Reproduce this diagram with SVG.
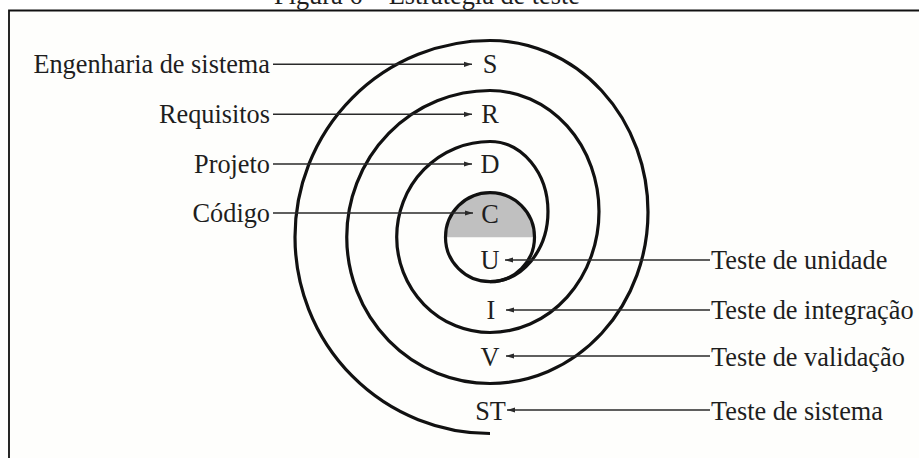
<svg xmlns="http://www.w3.org/2000/svg" width="919" height="458" viewBox="0 0 919 458">
  <style>
    .t { font-family: "Liberation Serif", "Times New Roman", serif; font-size: 26.3px; fill: #1e1e1e; }
    .l { text-anchor: end; }
    .m { text-anchor: middle; }
    .conn line { stroke: #2a2a2a; stroke-width: 1.4; marker-end: url(#ah); }
    .spiral { fill: none; stroke: #111; stroke-width: 3.2; }
  </style>
  <defs>
    <marker id="ah" markerUnits="userSpaceOnUse" markerWidth="9" markerHeight="6" refX="8" refY="3" orient="auto">
      <path d="M0,0.4 L8,3 L0,5.6 Z" fill="#2a2a2a"/>
    </marker>
  </defs>

  <rect x="0" y="0" width="919" height="458" fill="#ffffff"/>
  <rect x="9" y="10.5" width="920" height="460" fill="#fefefc"/>
  <path d="M9,470 V10.5 H925" fill="none" stroke="#111" stroke-width="1.8"/>
  <text id="caption" class="t m" x="427" y="3.5">Figura 6 – Estratégia de teste</text>

  <g id="spiral">
    <path d="M445.5,237.2 A44.5,44.5 0 0 1 534.5,237.2 Z" fill="#c0c0c0"/>
    <circle class="spiral" cx="490" cy="237.2" r="44.5"/>
    <path class="spiral" d="M490,281.7 A58,70.1 0 0 0 490,141.5 A93.3,95.5 0 0 0 490,332.5 A109,121 0 0 0 490,90.5 A143.3,146.5 0 0 0 490,383.5 A158,171.5 0 0 0 490,40.5 A195,196.5 0 0 0 490,433.5"/>
  </g>

  <g id="connectors" class="conn">
    <line x1="273" y1="64.3" x2="472" y2="64.3"/>
    <line x1="273" y1="114.3" x2="472" y2="114.3"/>
    <line x1="273" y1="164" x2="472" y2="164"/>
    <line x1="273" y1="213" x2="473" y2="213"/>
    <line x1="710" y1="260" x2="505" y2="260"/>
    <line x1="710" y1="310" x2="506" y2="310"/>
    <line x1="710" y1="356" x2="506" y2="356"/>
    <line x1="710" y1="410" x2="507" y2="410"/>
  </g>

  <g id="node-engenharia"><text class="t l" x="270" y="72.5">Engenharia de sistema</text></g>
  <g id="node-requisitos"><text class="t l" x="270" y="122.5">Requisitos</text></g>
  <g id="node-projeto"><text class="t l" x="270" y="172.5">Projeto</text></g>
  <g id="node-codigo"><text class="t l" x="270" y="221.5">Código</text></g>

  <g id="node-S"><text class="t m" x="490" y="73">S</text></g>
  <g id="node-R"><text class="t m" x="490" y="123">R</text></g>
  <g id="node-D"><text class="t m" x="490" y="173">D</text></g>
  <g id="node-C"><text class="t m" x="490" y="222.5">C</text></g>
  <g id="node-U"><text class="t m" x="490" y="269">U</text></g>
  <g id="node-I"><text class="t m" x="491" y="319">I</text></g>
  <g id="node-V"><text class="t m" x="490" y="365.5">V</text></g>
  <g id="node-ST"><text class="t m" x="490.5" y="419.5">ST</text></g>

  <g id="node-unidade"><text class="t" x="711" y="269">Teste de unidade</text></g>
  <g id="node-integracao"><text class="t" x="711" y="319">Teste de integração</text></g>
  <g id="node-validacao"><text class="t" x="711" y="365.5">Teste de validação</text></g>
  <g id="node-sistema"><text class="t" x="711" y="419.5">Teste de sistema</text></g>
</svg>
